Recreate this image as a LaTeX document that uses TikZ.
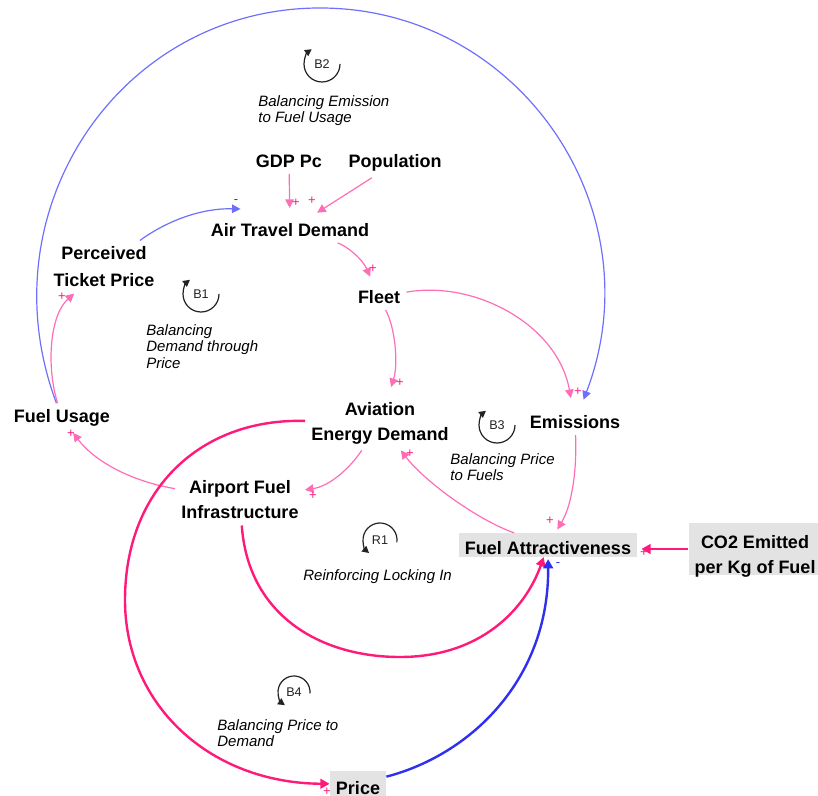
\documentclass[tikz,border=0pt]{standalone}
\usepackage{fontspec}
\setmainfont{Liberation Sans}
\usepackage{tikz}
\usetikzlibrary{arrows.meta, positioning}

\definecolor{posline}{HTML}{FF6DB6}
\definecolor{posstrong}{HTML}{FF1A7A}
\definecolor{negline}{HTML}{6E6EFF}
\definecolor{negstrong}{HTML}{2F2FF0}
\definecolor{boxfill}{HTML}{E3E3E3}
\definecolor{loopink}{HTML}{222222}

\begin{document}
\begin{tikzpicture}[
    x=0.5pt, y=-0.5pt,
    varnode/.style={
        align=center,
        inner sep=3pt,
        font=\fontsize{9}{12.5}\selectfont\bfseries
    },
    greybox/.style={
        varnode,
        fill=boxfill,
        inner ysep=1pt,
        text depth=0pt
    },
    loopnote/.style={
        anchor=north west,
        align=left,
        inner sep=0pt,
        font=\fontsize{7.5}{8.2}\selectfont\itshape
    },
    looplabel/.style={
        inner sep=0pt,
        text=loopink,
        font=\fontsize{6.3}{6.3}\selectfont
    },
    loopturn/.style={draw=loopink, line width=0.6pt, -{Triangle[length=3.4pt, width=3.6pt]}},
    possign/.style={inner sep=0pt, text=posstrong, font=\fontsize{6.5}{6.5}\selectfont},
    negsign/.style={inner sep=0pt, text=negstrong, font=\fontsize{6.5}{6.5}\selectfont},
    posarrow/.style={posline, line width=0.6pt, -{Triangle[length=4.3pt, width=4.3pt]}},
    posbold/.style={posstrong, line width=1.2pt, -{Triangle[length=4.6pt, width=4.8pt]}},
    negarrow/.style={negline, line width=0.6pt, -{Triangle[length=4.3pt, width=4.3pt]}},
    negbold/.style={negstrong, line width=1.2pt, -{Triangle[length=4.6pt, width=4.8pt]}}
]

\useasboundingbox (0,0) rectangle (818,796);

\node[varnode] (gdp) at (289,161) {GDP Pc};
\node[varnode] (pop) at (395,163) {Population};
\node[varnode] (demand) at (290,230) {Air Travel Demand};
\node[varnode, font=\fontsize{9}{13.5}\selectfont\bfseries] (ticket) at (104,267) {Perceived\\Ticket Price};
\node[varnode] (fleet) at (379,297) {Fleet};
\node[varnode] (usage) at (62,418) {Fuel Usage};
\node[varnode] (energy) at (380,423) {Aviation\\Energy Demand};
\node[varnode] (emis) at (575,422) {Emissions};
\node[varnode] (infra) at (240,500) {Airport Fuel\\Infrastructure};
\node[greybox, minimum width=88pt, text height=9.7pt] (attract) at (548,545) {Fuel Attractiveness};
\node[greybox, minimum width=65pt, text height=24pt] (co2) at (755,549) {CO2 Emitted\\per Kg of Fuel};
\node[greybox, minimum width=25.5pt, text height=10.75pt] (price) at (358,784) {Price};

\node[looplabel] (b2) at (322,64) {B2};
\node[looplabel] (b1) at (201,294) {B1};
\node[looplabel] (b3) at (497,425) {B3};
\node[looplabel] (r1) at (380,540) {R1};
\node[looplabel] (b4) at (294,692) {B4};

\node[loopnote] (b2note) at (258,95) {Balancing Emission\\to Fuel Usage};
\node[loopnote] (b1note) at (146,324) {Balancing\\Demand through\\Price};
\node[loopnote] (b3note) at (450,453) {Balancing Price\\to Fuels};
\node[loopnote] (r1note) at (303,569) {Reinforcing Locking In};
\node[loopnote] (b4note) at (217,719) {Balancing Price to\\Demand};

\draw[loopturn] (b2.center) ++(0:18) arc[start angle=0, end angle=235, radius=18];
\draw[loopturn] (b1.center) ++(0:18) arc[start angle=0, end angle=232, radius=18];
\draw[loopturn] (b3.center) ++(0:18) arc[start angle=0, end angle=232, radius=18];
\draw[loopturn] (r1.center) ++(8:17) arc[start angle=8, end angle=-230, radius=17];
\draw[loopturn] (b4.center) ++(5:16) arc[start angle=5, end angle=-235, radius=16];

\draw[posarrow, shorten >=4.5pt] (gdp) -- (demand);
\draw[posarrow, shorten >=4pt] (pop) -- (demand);
\draw[negarrow] (ticket) .. controls (165,222) and (200,208) .. ([xshift=18pt, yshift=4pt]demand.north west);
\draw[posarrow, shorten >=4pt] (demand) .. controls (345,245) and (362,258) .. (fleet);
\draw[posarrow, shorten >=4.5pt] (fleet) .. controls (396,330) and (398,365) .. (energy);
\draw[posarrow, shorten >=5.5pt] (fleet) .. controls (475,280) and (558,325) .. (emis);
\draw[negarrow, shorten >=5pt] (usage) .. controls (-16,210) and (120,8) .. (320,8) .. controls (520,8) and (656,210) .. (emis);
\draw[posarrow] (usage) .. controls (46,365) and (50,315) .. (ticket);
\draw[posarrow] (infra) .. controls (125,480) and (92,458) .. (usage);
\draw[posarrow] (energy) .. controls (350,468) and (330,486) .. (infra);
\draw[posarrow] (attract) .. controls (478,520) and (425,482) .. (energy);
\draw[posarrow, shorten >=2pt] (emis) .. controls (577,470) and (572,505) .. (attract);
\draw[posbold, shorten >=2pt] (co2) -- (co2 -| attract.east);
\draw[posbold] (infra) .. controls (248,615) and (320,657) .. (400,657) .. controls (480,657) and (525,610) .. (attract);
\draw[posbold] (energy) .. controls (200,418) and (125,490) .. (125,600) .. controls (125,705) and (210,783) .. (price);
\draw[negbold, shorten >=1pt] (price) .. controls (470,755) and (549,680) .. (attract);

\node[possign] (g1) at (296,203) {+};
\node[possign] (g2) at (312,201) {+};
\node[negsign] (g3) at (236,202) {-};
\node[possign] (g4) at (373,269) {+};
\node[possign] (g5) at (400,383) {+};
\node[possign] (g6) at (578,392) {+};
\node[possign] (g7) at (62,297) {+};
\node[possign] (g8) at (71,434) {+};
\node[possign] (g9) at (313,496) {+};
\node[possign] (g10) at (410,454) {+};
\node[possign] (g11) at (550,521) {+};
\node[possign] (g12) at (644,553) {+};
\node[possign] (g13) at (327,792) {+};
\node[negsign] (g14) at (558,565) {-};

\end{tikzpicture}
\end{document}
